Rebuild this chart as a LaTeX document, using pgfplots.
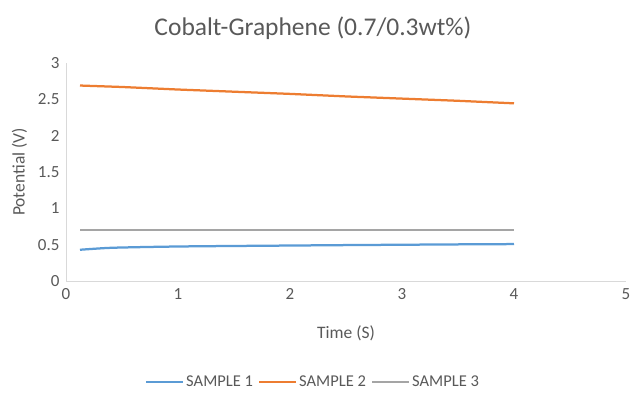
\documentclass[border=0pt]{standalone}
\usepackage{pgfplots}
\pgfplotsset{compat=1.18}
\usepackage{fontspec}
\setmainfont{Carlito}
\definecolor{txt}{HTML}{595959}
\definecolor{s1}{HTML}{5B9BD5}
\definecolor{s2}{HTML}{ED7D31}
\definecolor{s3}{HTML}{A5A5A5}
\definecolor{axl}{HTML}{D9D9D9}
\begin{document}
\begin{tikzpicture}[x=1pt,y=1pt]
\useasboundingbox (0,0) rectangle (630,394);
\node[text=txt,font=\fontsize{25.5}{30}\selectfont] at (313,366) {Cobalt-Graphene (0.7/0.3wt\%)};
\begin{axis}[
  at={(66pt,113pt)}, anchor=origin,
  scale only axis, width=560pt, height=218pt,
  xmin=0, xmax=5, ymin=0, ymax=3,
  xtick={0,1,2,3,4,5}, ytick={0,0.5,1,1.5,2,2.5,3},
  axis x line*=bottom, axis y line*=left,
  axis line style={draw=axl, line width=1pt, -},
  major tick length=0,
  tick label style={text=txt, font=\fontsize{17}{20}\selectfont},
  /pgf/number format/assume math mode=true,
  xticklabel style={yshift=-4pt},
  yticklabel style={xshift=-3pt},
  clip=false,
  legend columns=3,
  legend style={draw=none, at={(0.441,-0.463)}, anchor=center, text=txt, font=\fontsize{16.5}{19}\selectfont, /tikz/every even column/.append style={column sep=3pt}},
  legend image code/.code={\draw[#1, line width=2.25pt] (0pt,0pt) -- (37pt,0pt);},
]
\addplot[s1, line width=2.25pt, no marks, smooth] coordinates {
(0.125,0.43) (0.375,0.455) (0.625,0.465) (0.875,0.472) (1.125,0.477) (1.5,0.482) (2,0.488) (2.5,0.494) (3,0.499) (3.5,0.504) (4,0.508)};
\addlegendentry{SAMPLE 1}
\addplot[s2, line width=2.25pt, no marks] coordinates {
(0.125,2.69) (0.5,2.67) (1,2.635) (1.5,2.605) (2,2.575) (2.5,2.54) (3,2.51) (3.5,2.48) (4,2.445)};
\addlegendentry{SAMPLE 2}
\addplot[s3, line width=2.25pt, no marks] coordinates {
(0.125,0.70) (1,0.70) (2,0.70) (3,0.70) (4,0.70)};
\addlegendentry{SAMPLE 3}
\node[text=txt, font=\fontsize{17.5}{20}\selectfont] at (rel axis cs:0.5,-0.24) {Time (S)};
\node[text=txt, font=\fontsize{17.5}{20}\selectfont, rotate=90] at (rel axis cs:-0.083,0.5) {Potential (V)};
\end{axis}
\end{tikzpicture}
\end{document}
